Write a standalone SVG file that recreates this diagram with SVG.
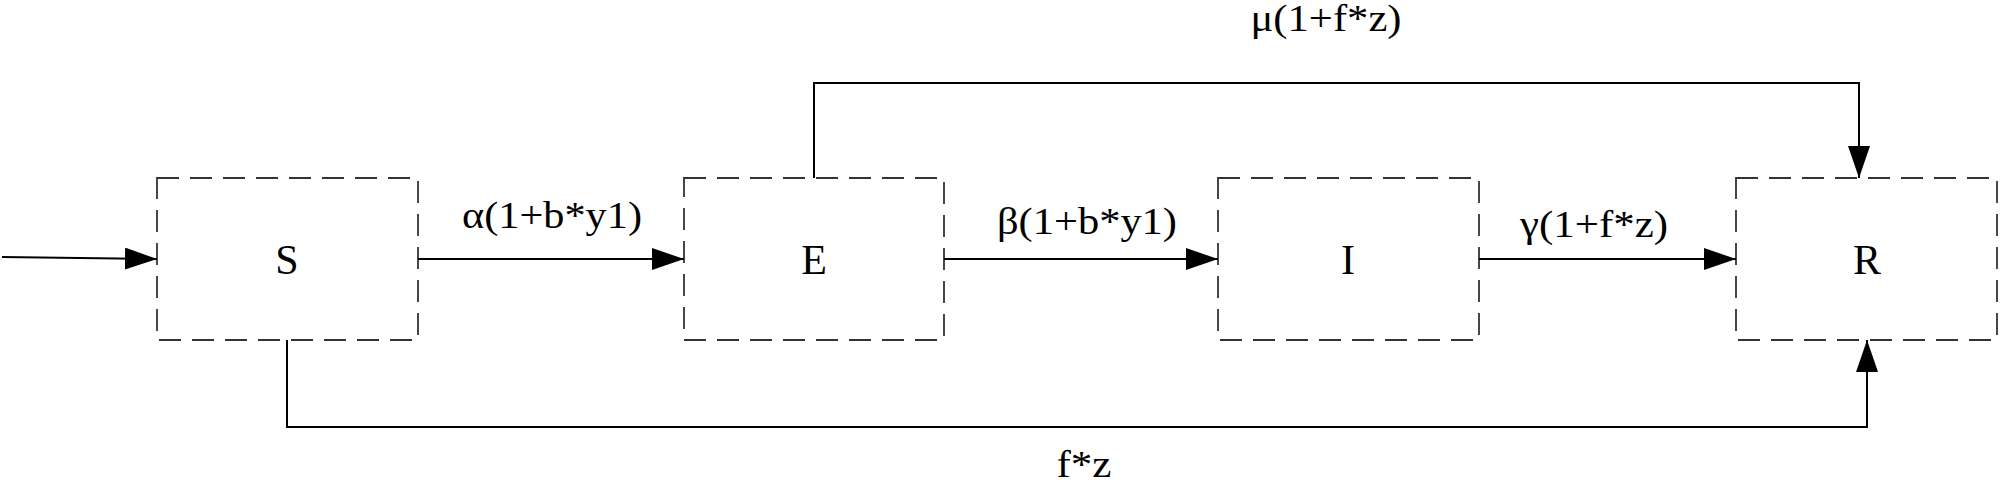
<svg xmlns="http://www.w3.org/2000/svg" width="2000" height="483" viewBox="0 0 2000 483">
<defs>
<style>
.box{fill:none;stroke:#333;stroke-width:1.8;stroke-dasharray:22 11}
.node{font-family:"Liberation Serif","Times New Roman",serif;font-size:42px;fill:#000;text-anchor:middle}
.lbl{font-family:"Liberation Serif","Times New Roman",serif;font-size:38px;fill:#000;text-anchor:middle}
.c{fill:none;stroke:#000;stroke-width:2}
</style>
<marker id="ah" markerUnits="userSpaceOnUse" markerWidth="34" markerHeight="22" refX="32" refY="11" orient="auto">
<path d="M0,0 L32,11 L0,22 Z" fill="#000"/>
</marker>
</defs>
<rect width="2000" height="483" fill="#fff"/>
<g id="node-S"><rect class="box" x="157" y="178" width="261" height="162"/><text class="node" x="287" y="274">S</text></g>
<g id="node-E"><rect class="box" x="684" y="178" width="260" height="162"/><text class="node" x="814" y="274">E</text></g>
<g id="node-I"><rect class="box" x="1218" y="178" width="261" height="162"/><text class="node" x="1348" y="274">I</text></g>
<g id="node-R"><rect class="box" x="1736" y="178" width="261" height="162"/><text class="node" x="1867" y="274">R</text></g>
<g id="connectors">
<line class="c" x1="2" y1="257" x2="157" y2="259" marker-end="url(#ah)"/>
<line class="c" x1="418" y1="259" x2="684" y2="259" marker-end="url(#ah)"/>
<line class="c" x1="944" y1="259" x2="1218" y2="259" marker-end="url(#ah)"/>
<line class="c" x1="1479" y1="259" x2="1736" y2="259" marker-end="url(#ah)"/>
<polyline class="c" points="814,178 814,83 1859,83 1859,178" marker-end="url(#ah)"/>
<polyline class="c" points="287,340 287,427 1867,427 1867,340" marker-end="url(#ah)"/>
</g>
<g id="labels">
<text class="lbl" x="552" y="228" textLength="180" lengthAdjust="spacingAndGlyphs">α(1+b*y1)</text>
<text class="lbl" x="1087" y="234" textLength="180" lengthAdjust="spacingAndGlyphs">β(1+b*y1)</text>
<text class="lbl" x="1594" y="237" textLength="148" lengthAdjust="spacingAndGlyphs">γ(1+f*z)</text>
<text class="lbl" x="1326" y="31" textLength="151" lengthAdjust="spacingAndGlyphs">μ(1+f*z)</text>
<text class="lbl" x="1084" y="477" textLength="55" lengthAdjust="spacingAndGlyphs">f*z</text>
</g>
</svg>
